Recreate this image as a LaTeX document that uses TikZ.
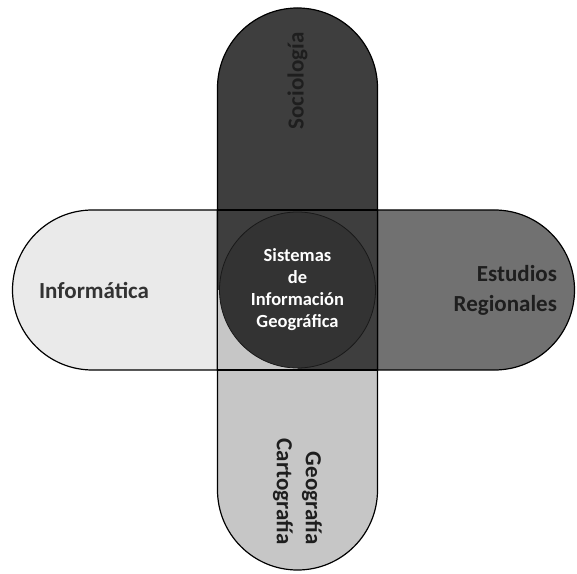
\documentclass[tikz,border=0pt]{standalone}
\usepackage{fontspec}
\setmainfont{Carlito}
\usetikzlibrary{shapes.misc,positioning,calc}
\definecolor{infofill}{HTML}{EAEAEA}
\definecolor{socfill}{HTML}{3E3E3E}
\definecolor{estfill}{HTML}{717171}
\definecolor{geofill}{HTML}{C6C6C6}
\definecolor{sigfill}{HTML}{333333}
\definecolor{darktext}{HTML}{1E1E1E}
\tikzset{
	pill/.style={rounded rectangle, draw=black, minimum height=160pt,
		inner sep=0pt, outer sep=0pt},
	pill name/.style={font=\bfseries\fontsize{23}{30}\selectfont,
		text=darktext, inner sep=0pt},
	sig name/.style={font=\bfseries\fontsize{18.5}{22}\selectfont,
		text=white, align=center},
}

\begin{document}
\begin{tikzpicture}[x=1pt, y=1pt, line width=1.2pt]
   \useasboundingbox (0,0) rectangle (577,573);
   \node[minimum size=160pt, inner sep=0pt, outer sep=0pt] (overlap) at (297.5,283) {};
   % the four arms
   \node[pill, fill=infofill, minimum width=365pt, rounded rectangle east arc=none,
            left=0pt of overlap.east] (informatica) {};
   \node[pill, fill=estfill, minimum width=357pt, rounded rectangle west arc=none,
            right=0pt of overlap.west] (estudios) {};
   \node[pill, fill=geofill, rotate=90, minimum width=360pt, rounded rectangle east arc=none,
            anchor=east] (geografia) at (overlap.north) {};
   \node[pill, fill=socfill, rotate=90, minimum width=362pt, rounded rectangle west arc=none,
            anchor=west] (sociologia) at (overlap.south) {};
   \begin{scope}
      \clip (overlap.south west) rectangle (overlap.center);
      \fill[geofill] (overlap.south west) rectangle (overlap.center);
   \end{scope}
   \draw (overlap.south west) rectangle (overlap.north east);
   \node[circle, draw=black!90, line width=0.8pt, fill=sigfill, minimum size=156pt,
            inner sep=0pt, sig name] (sig) at (overlap.center)
            {Sistemas\\de\\Información\\Geográfica};
   % labels
   \node[pill name, text=black!80, right=26pt of informatica.west] {Informática};
   \node[pill name, align=right, left=17pt of estudios.east] {Estudios\\Regionales};
   \node[pill name, rotate=90, anchor=east] at ([yshift=-24pt]sociologia.east) {Sociología};
   \node[pill name, rotate=-90, anchor=east, align=right, font=\bfseries\fontsize{23}{29}\selectfont]
      at ([yshift=25pt]geografia.west) {Geografía\\Cartografía};
\end{tikzpicture}
\end{document}
